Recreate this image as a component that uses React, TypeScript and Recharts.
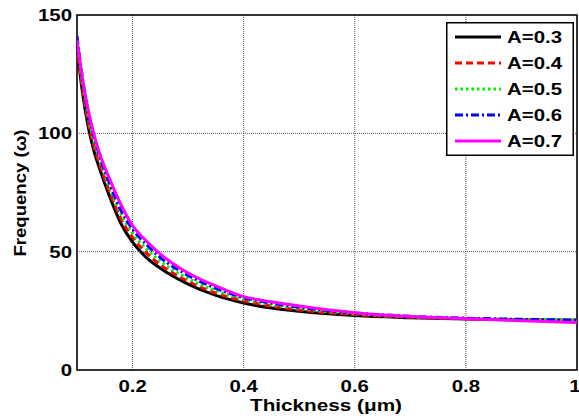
import React from "react";
import {
  CartesianGrid,
  Line,
  LineChart,
  ReferenceArea,
  XAxis,
  YAxis,
} from "recharts";

const thickness = [0.1, 0.11, 0.12, 0.13, 0.14, 0.16, 0.18, 0.2, 0.225, 0.25, 0.3, 0.35, 0.4, 0.45, 0.5, 0.6, 0.7, 0.8, 0.9, 1.0];
const freqA03 = [136, 117, 103, 93, 85.5, 72.5, 61.5, 54, 47.5, 43, 36.3, 31.5, 28.3, 26.2, 24.8, 23, 22.1, 21.5, 21.2, 21.0];
const freqA04 = [137, 119, 105, 95, 87.5, 74.5, 63.5, 56, 49.5, 44.5, 37.5, 32.5, 29.2, 27, 25.4, 23.4, 22.3, 21.7, 21.3, 21.0];
const freqA05 = [138, 121, 107, 97, 89.5, 76.5, 65.5, 57.8, 51.2, 46, 38.7, 33.5, 30, 27.7, 26, 23.8, 22.5, 21.8, 21.4, 21.0];
const freqA06 = [141, 123, 109, 99, 91, 78, 67, 59.5, 53, 47.5, 40, 34.5, 30.6, 28.3, 26.5, 24.1, 22.7, 21.9, 21.4, 21.1];
const freqA07 = [139.5, 123, 110, 100, 92, 80, 69.5, 61, 54.5, 49, 41, 35.5, 31, 28.8, 27, 24.2, 22.6, 21.7, 20.8, 20.1];

const xTicks = [0.2, 0.4, 0.6, 0.8, 1];
const yTicks = [0, 50, 100, 150];

const series = [
  { key: "a03", name: "A=0.3", color: "#000000", dash: undefined, values: freqA03 },
  { key: "a04", name: "A=0.4", color: "#ff0000", dash: "7 4", values: freqA04 },
  { key: "a05", name: "A=0.5", color: "#00ee00", dash: "2.5 3", values: freqA05 },
  { key: "a06", name: "A=0.6", color: "#0000ff", dash: "8 3 2 3", values: freqA06 },
  { key: "a07", name: "A=0.7", color: "#ff00ff", dash: undefined, values: freqA07 },
];

const data = thickness.map((t, i) => {
  const row: Record<string, number> = { t };
  series.forEach((s) => (row[s.key] = s.values[i]));
  return row;
});

const FONT = "Arial, 'Liberation Sans', sans-serif";
const STRETCH = 1.2;

function XTick({ x, payload }: any) {
  return (
    <g transform={`translate(${x},${392}) scale(${STRETCH},1)`}>
      <text textAnchor="middle" fontFamily={FONT} fontWeight="bold" fontSize={17} fill="#000">
        {payload.value}
      </text>
    </g>
  );
}

function YTick({ y, payload }: any) {
  return (
    <g transform={`translate(72,${y}) scale(${STRETCH},1)`}>
      <text textAnchor="end" dy="0.36em" fontFamily={FONT} fontWeight="bold" fontSize={17} fill="#000">
        {payload.value}
      </text>
    </g>
  );
}

function LegendBox() {
  return (
    <svg width={128} height={134} style={{ display: "block" }}>
      <rect x={0.75} y={0.75} width={126.5} height={132.5} fill="#fff" stroke="#000" strokeWidth={1.5} />
      {series.map((s, i) => {
        const cy = 15 + i * 26;
        return (
          <g key={s.key}>
            <line x1={9} x2={55} y1={cy} y2={cy} stroke={s.color} strokeWidth={3} strokeDasharray={s.dash} />
            <g transform={`translate(61,${cy}) scale(${STRETCH},1)`}>
              <text dy="0.36em" fontFamily={FONT} fontWeight="bold" fontSize={17} fill="#000">
                {s.name}
              </text>
            </g>
          </g>
        );
      })}
    </svg>
  );
}

export default function App() {
  return (
    <div style={{ position: "absolute", left: 0, top: 0, width: 579, height: 419, background: "#fff" }}>
      <LineChart width={579} height={419} data={data} margin={{ top: 15, right: 2, left: 0, bottom: 0 }}>
        <CartesianGrid stroke="#555" strokeDasharray="1 1" />
        <XAxis
          dataKey="t"
          type="number"
          domain={[0.1, 1]}
          ticks={xTicks}
          allowDataOverflow
          height={49}
          axisLine={false}
          tickLine={false}
          tick={<XTick />}
        />
        <YAxis
          type="number"
          domain={[0, 150]}
          ticks={yTicks}
          width={77}
          axisLine={false}
          tickLine={false}
          tick={<YTick />}
        />
        <ReferenceArea x1={0.1} x2={1} y1={0} y2={150} fill="none" stroke="#000" strokeWidth={1.5} />
        {series.map((s) => (
          <Line
            key={s.key}
            dataKey={s.key}
            name={s.name}
            type="monotone"
            stroke={s.color}
            strokeWidth={3}
            strokeDasharray={s.dash}
            dot={false}
            isAnimationActive={false}
          />
        ))}
        <text
          x={326}
          y={411}
          textAnchor="middle"
          textLength={152}
          lengthAdjust="spacingAndGlyphs"
          fontFamily={FONT}
          fontWeight="bold"
          fontSize={17}
        >
          Thickness (μm)
        </text>
        <text
          transform="translate(26,193) rotate(-90)"
          textAnchor="middle"
          textLength={127}
          lengthAdjust="spacingAndGlyphs"
          fontFamily={FONT}
          fontWeight="bold"
          fontSize={17}
        >
          Frequency (ω)
        </text>
      </LineChart>
      <div style={{ position: "absolute", left: 446, top: 22 }}>
        <LegendBox />
      </div>
    </div>
  );
}
